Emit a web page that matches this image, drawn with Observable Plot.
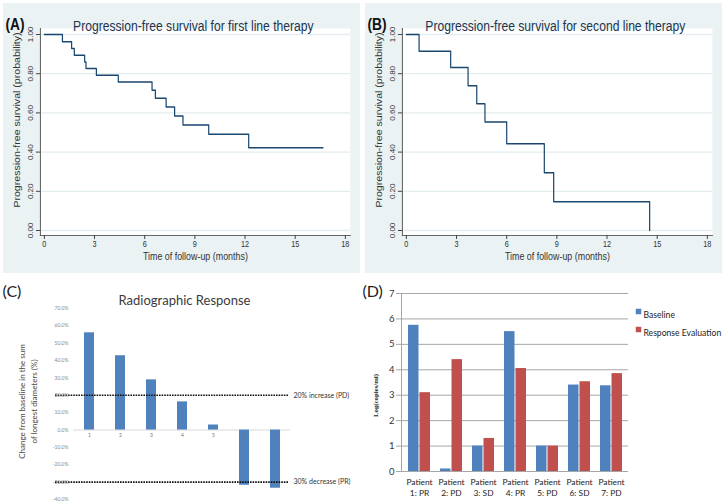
<!DOCTYPE html>
<html><head><meta charset="utf-8">
<script src="https://cdn.jsdelivr.net/npm/d3@7"></script>
<script src="https://cdn.jsdelivr.net/npm/@observablehq/plot@0.6"></script>
<style>
body{margin:0;background:#fff;}
#root{position:relative;width:724px;height:503px;overflow:hidden;background:#fff;}
.panel{position:absolute;overflow:visible;}
.panel svg{display:block;overflow:visible;max-width:none !important;}
</style></head><body><div id="root"></div>
<script>
// ---- Panel A: PFS first line (Kaplan–Meier steps)
const pfs1Time = [0, 1.08, 1.63, 1.79, 2.41, 2.49, 3.11, 4.42, 6.44, 6.64, 7.28, 7.79, 8.29, 9.83, 12.22, 16.66];
const pfs1Surv = [1, 0.963, 0.928, 0.894, 0.860, 0.826, 0.792, 0.758, 0.716, 0.675, 0.630, 0.584, 0.538, 0.491, 0.422, 0.422];
// ---- Panel B: PFS second line
const pfs2Time = [0, 0.76, 2.65, 3.69, 4.21, 4.70, 6.0, 8.25, 8.81, 14.55];
const pfs2Surv = [1, 0.915, 0.831, 0.739, 0.647, 0.554, 0.443, 0.295, 0.147, 0];
const kmXTicks = [0, 3, 6, 9, 12, 15, 18];
const kmYTicks = [0, 0.2, 0.4, 0.6, 0.8, 1];
// ---- Panel C: radiographic response (waterfall)
const respPatients = ["1", "2", "3", "4", "5", "6", "7"];
const respChange = [56.0, 42.8, 28.9, 16.2, 2.9, -31.8, -33.5];
const respTicks = [-40, -30, -20, -10, 0, 10, 20, 30, 40, 50, 60, 70];
const respThresholds = [20, -30];
const respThresholdLabels = ["20% increase (PD)", "30% decrease (PR)"];
// ---- Panel D: log copies/ml
const dnaPatients = ["Patient\n1: PR", "Patient\n2: PD", "Patient\n3: SD", "Patient\n4: PR", "Patient\n5: PD", "Patient\n6: SD", "Patient\n7: PD"];
const dnaBaseline = [5.75, 0.1, 1.0, 5.5, 1.0, 3.4, 3.37];
const dnaResponse = [3.1, 4.4, 1.3, 4.05, 1.0, 3.53, 3.85];
const dnaTicks = [0, 1, 2, 3, 4, 5, 6, 7];
const dnaSeries = ["Baseline", "Response Evaluation"];
const dnaColors = ["#4f81bd", "#c0504d"];

const root = document.getElementById("root");
const SANS = "'Liberation Sans',Arial,sans-serif";
const CAL = "Lato,'Open Sans',sans-serif";

function place(node, left, top, w, h, bg) {
  const d = document.createElement("div");
  d.className = "panel";
  d.style.left = left + "px"; d.style.top = top + "px";
  d.style.width = w + "px"; d.style.height = h + "px";
  if (bg) d.style.background = bg;
  d.appendChild(node);
  root.appendChild(d);
  return d;
}

// The Stata panels are drawn wide and squeezed horizontally, like the source image.
const SQ = 357 / 441;
function kmPanel(time, surv, title, letter, left) {
  const data = time.map((t, i) => ({t, s: surv[i]}));
  const chart = Plot.plot({
    width: 441, height: 270,
    marginLeft: 45.7, marginRight: 12.4, marginTop: 25, marginBottom: 38,
    style: {background: "transparent", fontFamily: SANS, color: "#333", maxWidth: "none", width: "441px", height: "270px"},
    x: {domain: [0, 18], insetLeft: 4.9, insetRight: 6.2},
    y: {domain: [0, 1], insetTop: 6, insetBottom: 5},
    marks: [
      Plot.frame({fill: "white", stroke: "none"}),
      Plot.ruleY(kmYTicks, {stroke: "#e3ecef", strokeWidth: 1.3}),
      Plot.frame({anchor: "left", stroke: "#555", strokeWidth: 1.2}),
      Plot.frame({anchor: "bottom", stroke: "#555"}),
      Plot.line(data, {x: "t", y: "s", curve: "step-after", stroke: "#1a476f", strokeWidth: 1.5}),
      Plot.axisX({ticks: kmXTicks, tickSize: 4, tickPadding: 1, fontSize: 9, label: null, tickFormat: d => String(d), color: "#333"}),
      Plot.axisY({ticks: kmYTicks, tickSize: 5, tickPadding: 4, tickRotate: -90, fontSize: 8, label: null, tickFormat: d3.format(".2f"), color: "#333"}),
      Plot.text(["Time of follow-up (months)"], {text: d => d, frameAnchor: "bottom", dy: 24.5, fontSize: 11, fill: "#333"}),
      Plot.text(["Progression-free survival (probability)"], {text: d => d, frameAnchor: "left", textAnchor: "middle", dx: -28.4, dy: -12, rotate: -90, fontSize: 10.6, fill: "#333"}),
      Plot.text([title], {text: d => d, frameAnchor: "top", dx: -2.5, dy: -8, fontSize: 15, fill: "#22344f"}),
      Plot.text([letter], {text: d => d, frameAnchor: "top-left", dx: -43.2, dy: -11, textAnchor: "start", fontSize: 17, fontWeight: "bold", fill: "#111"})
    ]
  });
  chart.style.transform = `scaleX(${SQ})`;
  chart.style.transformOrigin = "0 0";
  const d = place(chart, left, 3, 357, 270, "#eaf2f3");
  d.style.overflow = "hidden";
}

kmPanel(pfs1Time, pfs1Surv, "Progression-free survival for first line therapy", "(A)", 3);
kmPanel(pfs2Time, pfs2Surv, "Progression-free survival for second line therapy", "(B)", 365);

// ---- Panel C
{
  const data = respPatients.map((p, i) => ({p, v: respChange[i]}));
  const thr = respThresholds.map((v, i) => ({v, label: respThresholdLabels[i]}));
  const chart = Plot.plot({
    width: 362, height: 225,
    marginLeft: 73, marginRight: 72, marginTop: 30, marginBottom: 4,
    style: {background: "transparent", fontFamily: CAL, color: "#333"},
    x: {domain: respPatients, paddingInner: 0.68, paddingOuter: 0.34, axis: null},
    y: {domain: [-40, 70]},
    marks: [
      Plot.ruleY([0], {stroke: "#d9d9d9"}),
      Plot.barY(data, {x: "p", y: "v", fill: "#4f81bd"}),
      Plot.text(data, {x: "p", y: 0, text: "p", dy: 5, fontSize: 5, fill: "#777"}),
      Plot.ruleY(thr, {y: "v", stroke: "#111", strokeWidth: 1.6, strokeDasharray: "1.6,1", insetLeft: -18, insetRight: 2}),
      Plot.text(thr, {y: "v", text: "label", frameAnchor: "right", dx: 3, textAnchor: "start", fontSize: 7, fill: "#333"}),
      Plot.axisY({ticks: respTicks, tickSize: 0, tickPadding: 5, fontSize: 5, label: null, tickFormat: d => d.toFixed(1) + "%", color: "#888"}),
      Plot.text(["Radiographic Response"], {text: d => d, frameAnchor: "top", dx: 2.5, dy: -13, fontSize: 13, fill: "#3a3a3a"}),
      Plot.text(["Change from baseline in the sum\nof longest diameters (%)"], {text: d => d, frameAnchor: "left", textAnchor: "middle", dx: -46, dy: -2.5, rotate: -90, fontSize: 8, lineHeight: 1.5, fill: "#4a4a4a"}),
      Plot.text(["(C)"], {text: d => d, frameAnchor: "top-left", dx: -71, dy: -23, textAnchor: "start", fontSize: 16, fill: "#222"})
    ]
  });
  place(chart, 0, 278, 362, 225);
}

// ---- Panel D
{
  const data = dnaPatients.map((p, i) => ({p, b: dnaBaseline[i], r: dnaResponse[i]}));
  const legendMarks = dnaSeries.flatMap((s, i) => [
    Plot.dot([s], {frameAnchor: "top-right", dx: 10, dy: 18 + i * 18, symbol: "square", r: 3.1, fill: dnaColors[i], stroke: "none"}),
    Plot.text([s], {text: d => d, frameAnchor: "top-right", dx: 15, dy: 18 + i * 18, textAnchor: "start", fontSize: 8.6, fill: "#222"})
  ]);
  const chart = Plot.plot({
    width: 362, height: 225,
    marginLeft: 39, marginRight: 96, marginTop: 15, marginBottom: 32,
    style: {background: "transparent", fontFamily: CAL, color: "#222"},
    x: {domain: dnaPatients, paddingInner: 0.32, paddingOuter: 0.16},
    y: {domain: [0, 7]},
    marks: [
      Plot.ruleY(dnaTicks, {stroke: "#a6a6a6"}),
      Plot.frame({anchor: "left", stroke: "#a6a6a6"}),
      Plot.barY(data, {x: "p", y: "b", fill: dnaColors[0], insetRight: 11.5}),
      Plot.barY(data, {x: "p", y: "r", fill: dnaColors[1], insetLeft: 11.5}),
      Plot.axisY({ticks: dnaTicks, tickSize: 5, tickPadding: 2, fontSize: 9.5, label: null, tickFormat: d => String(d), color: "#333", stroke: "#a6a6a6"}),
      Plot.axisX({tickSize: 0, tickPadding: 6, fontSize: 8.4, lineHeight: 1.3, label: null, color: "#222"}),
      Plot.text(["Log(copies/ml)"], {text: d => d, frameAnchor: "left", textAnchor: "middle", dx: -26, dy: 13, rotate: -90, fontSize: 6.8, fontWeight: "bold", fontFamily: "'Liberation Serif','Times New Roman',serif", fill: "#222"}),
      Plot.text(["(D)"], {text: d => d, frameAnchor: "top-left", dx: -39, dy: -8, textAnchor: "start", fontSize: 16, fill: "#222"}),
      ...legendMarks
    ]
  });
  place(chart, 362, 278, 362, 225);
}
</script></body></html>
